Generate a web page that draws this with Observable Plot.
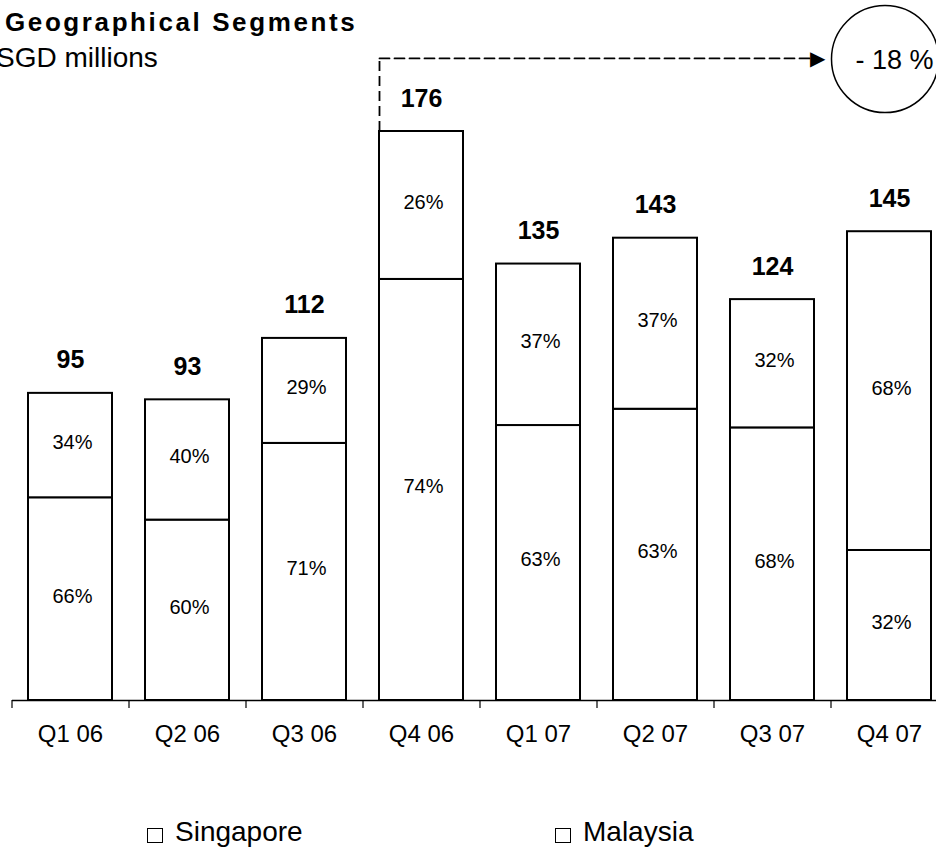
<!DOCTYPE html>
<html>
<head>
<meta charset="utf-8">
<script src="https://cdn.jsdelivr.net/npm/d3@7"></script>
<script src="https://cdn.jsdelivr.net/npm/@observablehq/plot@0.6"></script>
<style>
  html, body { margin: 0; padding: 0; background: #fff; }
  body { width: 936px; height: 849px; overflow: hidden; position: relative; font-family: "Liberation Sans", Arial, sans-serif; color: #000; }
  #chart { position: absolute; left: 0; top: 0; }
  .title { position: absolute; left: 5px; top: 9px; font-size: 26px; line-height: 26px; font-weight: bold; letter-spacing: 2.6px; white-space: nowrap; }
  .subtitle { position: absolute; left: -4px; top: 44px; font-size: 28px; line-height: 28px; white-space: nowrap; }
  .legend { position: absolute; top: 818px; left: 0; width: 936px; height: 30px; font-size: 28px; line-height: 28px; }
  .legend .item { position: absolute; top: 0; white-space: nowrap; }
  .legend .sw { position: absolute; top: 10px; width: 14px; height: 13px; border: 1.5px solid #000; background: #fff; }
  .legend .lab { position: absolute; top: 0; }
</style>
</head>
<body>
<div id="chart"></div>
<div class="title">Geographical Segments</div>
<div class="subtitle">SGD millions</div>
<div class="legend" id="legend"></div>
<script>
// ---- data ----
const quarters = ["Q1 06", "Q2 06", "Q3 06", "Q4 06", "Q1 07", "Q2 07", "Q3 07", "Q4 07"];
const totals = [95, 93, 112, 176, 135, 143, 124, 145];
const singaporePct = [66, 60, 71, 74, 63, 63, 68, 32];
const malaysiaPct = [34, 40, 29, 26, 37, 37, 32, 68];
const regions = ["Singapore", "Malaysia"];
const changeFrom = "Q4 06";
const changeTo = "Q4 07";
const changeLevel = 198.6;
const changeLabel = "- 18 %";

// ---- build table (stacked: Singapore bottom, Malaysia top) ----
const rows = [];
quarters.forEach((q, i) => {
  const sg = totals[i] * singaporePct[i] / 100;
  const my = totals[i] * malaysiaPct[i] / 100;
  rows.push({quarter: q, region: "Singapore", y1: 0, y2: sg, mid: sg / 2, pct: singaporePct[i]});
  rows.push({quarter: q, region: "Malaysia", y1: sg, y2: sg + my, mid: sg + my / 2, pct: malaysiaPct[i]});
});
const totalRows = quarters.map((q, i) => ({quarter: q, total: totals[i]}));
const annot = [{from: changeFrom, to: changeTo, base: totals[quarters.indexOf(changeFrom)], level: changeLevel, label: changeLabel}];

const xOpts = {type: "band", domain: quarters, range: [12, 948], paddingInner: 0.282, paddingOuter: 0.141};
const xs = Plot.scale({x: xOpts});
const bw = xs.bandwidth;
const step = xs.step;

const chart = Plot.plot({
  width: 936,
  height: 770,
  marginLeft: 12,
  marginRight: 0,
  marginTop: 0,
  marginBottom: 70,
  style: {fontFamily: "'Liberation Sans', Arial, sans-serif", background: "transparent", overflow: "visible", color: "#000"},
  x: {...xOpts, axis: null},
  y: {domain: [0, 176], range: [700, 131], axis: null},
  marks: [
    Plot.barY(rows, {x: "quarter", y1: "y1", y2: "y2", fill: "white", stroke: "black", strokeWidth: 2}),
    Plot.text(rows, {x: "quarter", y: "mid", text: d => d.pct + "%", fontSize: 20, dy: -3, dx: 2, fill: "black"}),
    Plot.text(totalRows, {x: "quarter", y: "total", text: d => String(d.total), fontSize: 25, fontWeight: "bold", dy: -33, fill: "black"}),
    Plot.ruleY([0], {stroke: "black", strokeWidth: 1.5}),
    Plot.axisX({tickSize: 8, tickFormat: () => "", dx: -step / 2, stroke: "black", strokeWidth: 1.2}),
    Plot.axisX({tickSize: 0, tickPadding: 24, fontSize: 24, fill: "black"}),
    // dashed change annotation
    Plot.ruleX(annot, {x: "from", y1: "base", y2: "level", dx: -bw / 2, stroke: "black", strokeWidth: 1.8, strokeDasharray: "10,5"}),
    Plot.arrow(annot, {x1: "from", x2: "to", y1: "level", y2: "level", insetStart: -bw / 2, insetEnd: 78, headLength: 0, stroke: "black", strokeWidth: 1.8, strokeDasharray: "10,5"}),
    Plot.text(annot, {x: "to", y: "level", text: () => "\u25B6", fontFamily: "DejaVu Sans", fontSize: 20, textAnchor: "end", dx: -64, fill: "black"}),
    Plot.dot(annot, {x: "to", y: "level", r: 53.5, dx: -4.5, dy: 0.6, stroke: "black", strokeWidth: 1.5, fill: "none"}),
    Plot.text(annot, {x: "to", y: "level", text: "label", fontSize: 27, dx: 5, dy: 2, fill: "black"})
  ]
});
document.getElementById("chart").appendChild(chart);

// ---- legend ----
const legend = document.getElementById("legend");
const legendPos = [147, 555];
regions.forEach((r, i) => {
  const item = document.createElement("div");
  item.className = "item";
  item.style.left = legendPos[i] + "px";
  item.innerHTML = '<span class="sw" style="left:0"></span><span class="lab" style="left:28px">' + r + '</span>';
  legend.appendChild(item);
});
</script>
</body>
</html>
